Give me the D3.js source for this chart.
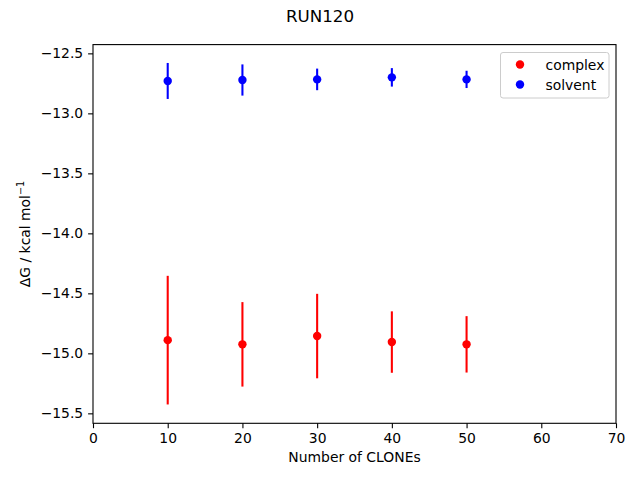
<!DOCTYPE html>
<html><head><meta charset="utf-8">
<script src="https://cdn.jsdelivr.net/npm/d3@7"></script>
<style>body{margin:0;background:#fff}svg{font-family:"DejaVu Sans",sans-serif}</style>
</head><body>
<svg id="c" width="640" height="480"></svg>
<script>
const clones = [10, 20, 30, 40, 50];
const complexMean = [-14.89, -14.925, -14.856, -14.906, -14.925];
const complexErr = [0.536, 0.352, 0.352, 0.256, 0.235];
const solventMean = [-12.73, -12.722, -12.717, -12.70, -12.717];
const solventErr = [0.15, 0.13, 0.09, 0.077, 0.072];
const xTicks = [0, 10, 20, 30, 40, 50, 60, 70];
const yTicks = [-15.5, -15.0, -14.5, -14.0, -13.5, -13.0, -12.5];
const seriesNames = ["complex", "solvent"];
const seriesColors = ["#ff0000", "#0000ff"];

const svg = d3.select("#c");
const L = 93, R = 616, T = 44.6, B = 423.3;
const x = d3.scaleLinear().domain([0, 70]).range([L, R]);
const y = d3.scaleLinear().domain([-15.583, -12.427]).range([B, T]);

const fmt = d => d3.format(".1f")(d).replace("-", "\u2212");
const xAxis = svg.append("g").attr("transform", `translate(0,${B})`)
  .call(d3.axisBottom(x).tickValues(xTicks).tickSize(4.9).tickPadding(4.9).tickFormat(d => d));
const yAxis = svg.append("g").attr("transform", `translate(${L},0)`)
  .call(d3.axisLeft(y).tickValues(yTicks).tickSize(4.9).tickPadding(4.9).tickFormat(fmt));
[xAxis, yAxis].forEach(a => {
  a.select(".domain").remove();
  a.selectAll("line").attr("stroke", "#000").attr("stroke-width", 1.1);
  a.selectAll("text").attr("font-size", 13.9).attr("fill", "#000").attr("font-family", "DejaVu Sans");
});
svg.append("rect").attr("x", L).attr("y", T).attr("width", R - L).attr("height", B - T)
  .attr("fill", "none").attr("stroke", "#000").attr("stroke-width", 1.1);

function drawSeries(means, errs, color) {
  const g = svg.append("g");
  g.selectAll("line").data(clones).join("line")
    .attr("x1", d => x(d)).attr("x2", d => x(d))
    .attr("y1", (d, i) => y(means[i] + errs[i]))
    .attr("y2", (d, i) => y(means[i] - errs[i]))
    .attr("stroke", color).attr("stroke-width", 2.08);
  g.selectAll("circle").data(clones).join("circle")
    .attr("cx", d => x(d)).attr("cy", (d, i) => y(means[i]))
    .attr("r", 4.2).attr("fill", color);
}
drawSeries(complexMean, complexErr, seriesColors[0]);
drawSeries(solventMean, solventErr, seriesColors[1]);

// title
svg.append("text").attr("x", 320).attr("y", 22).attr("text-anchor", "middle")
  .attr("font-size", 16.7).text("RUN120");
// x label
svg.append("text").attr("x", (L + R) / 2).attr("y", 462).attr("text-anchor", "middle")
  .attr("font-size", 13.9).text("Number of CLONEs");
// y label
const yl = svg.append("text").attr("transform", `translate(30,${(T + B) / 2}) rotate(-90)`)
  .attr("text-anchor", "middle").attr("font-size", 13.9);
yl.append("tspan").text("\u0394G / kcal mol");
yl.append("tspan").attr("dy", -6).attr("font-size", 9.7).text("\u22121");

// legend
const lg = svg.append("g");
lg.append("rect").attr("x", 500.5).attr("y", 52.5).attr("width", 108.5).attr("height", 45.5)
  .attr("rx", 2.5).attr("fill", "#fff").attr("fill-opacity", 0.8)
  .attr("stroke", "#cccccc").attr("stroke-width", 1);
seriesNames.forEach((n, i) => {
  lg.append("circle").attr("cx", 520).attr("cy", 64.5 + i * 20).attr("r", 4.2).attr("fill", seriesColors[i]);
  lg.append("text").attr("x", 545.5).attr("y", 64.5 + i * 20 + 5).attr("font-size", 13.9).text(n);
});
</script>
</body></html>
